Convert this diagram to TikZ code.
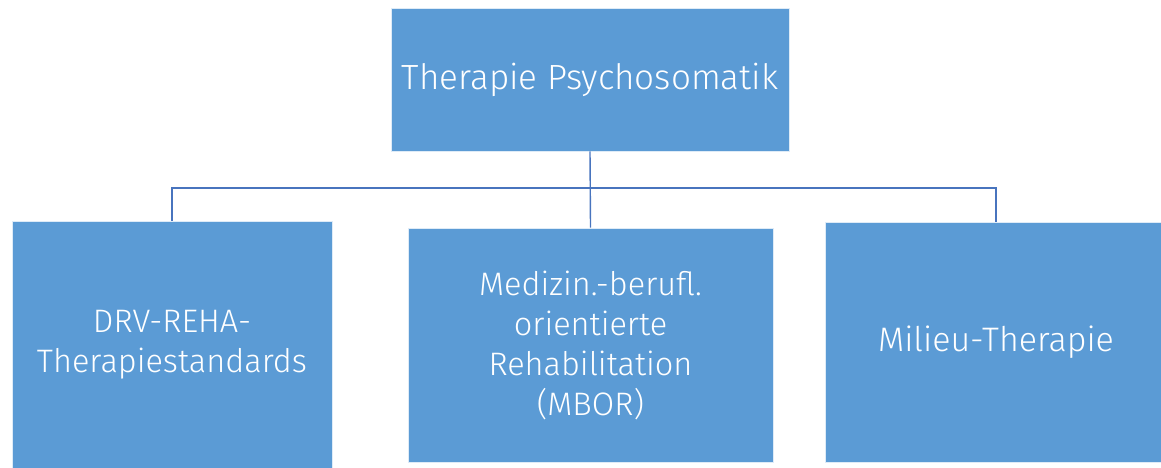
\documentclass[tikz,border=0pt]{standalone}
\usepackage{fontspec}
\setmainfont{Fira Sans Light}
\usepackage{tikz}
\usetikzlibrary{positioning,calc}
\usepackage{xcolor}

\begin{document}
\begin{tikzpicture}[x=1pt,y=-1pt]
% Define colors
\definecolor{boxblue}{RGB}{91,155,213}
\definecolor{linkblue}{RGB}{72,116,190}

\tikzset{
  orgbox/.style={fill=boxblue,draw=white!80!boxblue,line width=0.8pt,
    text=white,align=center,inner sep=0pt},
  orglink/.style={draw=linkblue,line width=1.4pt}
}

% Canvas
\useasboundingbox (0,0) rectangle (1161,468);

% Top box
\node[orgbox,minimum width=398pt,minimum height=143pt,
  font=\fontsize{35}{42}\selectfont] (top) at (590,79.5) {Therapie Psychosomatik};

% Lower boxes
\node[orgbox,minimum width=320pt,minimum height=248pt,
  font=\fontsize{32.5}{40}\selectfont] (drv) at (172,345) {DRV-REHA-\\Therapiestandards};
\node[orgbox,minimum width=365pt,minimum height=234pt,
  font=\fontsize{32.5}{40}\selectfont] (mbor) at (590.5,345) {Medizin.-berufl.\\orientierte\\Rehabilitation\\(MBOR)};
\node[orgbox,minimum width=342pt,minimum height=240pt,
  font=\fontsize{34}{40}\selectfont] (milieu) at (996,342) {Milieu-Therapie};

% Connectors
\coordinate (junction) at (590,188);
\draw[orglink] (top.south) -- (mbor.north);
\draw[orglink] (drv.north) |- (junction) -| (milieu.north);
\end{tikzpicture}
\end{document}
